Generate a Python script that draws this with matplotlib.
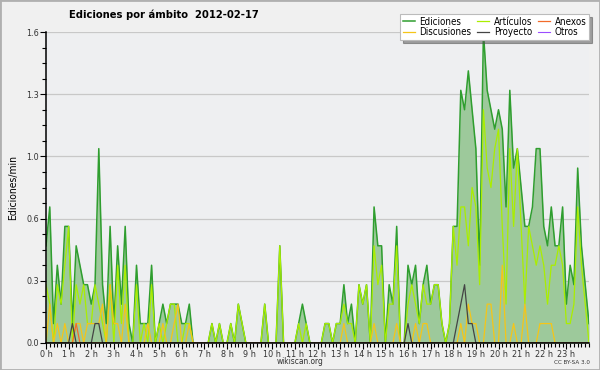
import matplotlib
matplotlib.use('Agg')
import matplotlib.pyplot as plt
from matplotlib.patches import Rectangle
import numpy as np

plt.rcParams['font.family'] = ['DejaVu Sans']
plt.rcParams['font.stretch'] = 'condensed'

# 10-minute steps over the day (0:00 .. 24:00), values in edits per minute
hours = np.arange(145) / 6.0

ediciones = [
    0.5, 0.7, 0.1, 0.4, 0.2, 0.6, 0.6, 0.1, 0.5, 0.4, 0.3, 0.3,
    0.2, 0.3, 1.0, 0.3, 0.1, 0.6, 0.1, 0.5, 0.2, 0.6, 0.1, 0.0,
    0.4, 0.1, 0.1, 0.1, 0.4, 0.0, 0.1, 0.2, 0.1, 0.2, 0.2, 0.2,
    0.1, 0.1, 0.2, 0.0, 0.0, 0.0, 0.0, 0.0, 0.1, 0.0, 0.1, 0.0,
    0.0, 0.1, 0.0, 0.2, 0.1, 0.0, 0.0, 0.0, 0.0, 0.0, 0.2, 0.0,
    0.0, 0.0, 0.5, 0.0, 0.0, 0.0, 0.0, 0.1, 0.2, 0.1, 0.0, 0.0,
    0.0, 0.0, 0.1, 0.1, 0.0, 0.1, 0.1, 0.3, 0.1, 0.2, 0.0, 0.3,
    0.2, 0.3, 0.0, 0.7, 0.5, 0.5, 0.0, 0.3, 0.2, 0.6, 0.0, 0.0,
    0.4, 0.3, 0.4, 0.1, 0.3, 0.4, 0.2, 0.3, 0.3, 0.1, 0.0, 0.1,
    0.6, 0.6, 1.3, 1.2, 1.4, 1.2, 1.0, 0.4, 1.6, 1.3, 1.2, 1.1,
    1.2, 1.1, 0.7, 1.3, 0.9, 1.0, 0.8, 0.6, 0.6, 0.7, 1.0, 1.0,
    0.6, 0.5, 0.7, 0.5, 0.5, 0.7, 0.2, 0.4, 0.3, 0.9, 0.5, 0.3,
    0.1,
]

articulos = [
    0.3, 0.2, 0.0, 0.3, 0.2, 0.4, 0.6, 0.0, 0.3, 0.2, 0.3, 0.1,
    0.1, 0.3, 0.2, 0.1, 0.0, 0.3, 0.0, 0.4, 0.1, 0.4, 0.0, 0.0,
    0.3, 0.0, 0.1, 0.0, 0.3, 0.0, 0.1, 0.0, 0.1, 0.2, 0.2, 0.0,
    0.0, 0.1, 0.1, 0.0, 0.0, 0.0, 0.0, 0.0, 0.1, 0.0, 0.1, 0.0,
    0.0, 0.1, 0.0, 0.2, 0.1, 0.0, 0.0, 0.0, 0.0, 0.0, 0.2, 0.0,
    0.0, 0.0, 0.5, 0.0, 0.0, 0.0, 0.0, 0.1, 0.0, 0.1, 0.0, 0.0,
    0.0, 0.0, 0.1, 0.1, 0.0, 0.1, 0.1, 0.2, 0.1, 0.1, 0.0, 0.3,
    0.2, 0.3, 0.0, 0.5, 0.3, 0.4, 0.0, 0.2, 0.2, 0.5, 0.0, 0.0,
    0.2, 0.3, 0.2, 0.1, 0.3, 0.2, 0.2, 0.3, 0.3, 0.1, 0.0, 0.1,
    0.6, 0.4, 0.7, 0.7, 0.5, 0.8, 0.7, 0.3, 1.2, 0.9, 0.8, 1.0,
    1.1, 0.6, 0.2, 1.0, 0.6, 1.0, 0.6, 0.2, 0.6, 0.5, 0.4, 0.5,
    0.4, 0.2, 0.4, 0.4, 0.5, 0.4, 0.1, 0.1, 0.2, 0.7, 0.4, 0.2,
    0.0,
]

discusiones = [
    0.0, 0.2, 0.0, 0.1, 0.0, 0.1, 0.0, 0.0, 0.1, 0.1, 0.0, 0.1,
    0.1, 0.1, 0.1, 0.2, 0.0, 0.3, 0.1, 0.1, 0.0, 0.2, 0.0, 0.0,
    0.0, 0.0, 0.0, 0.1, 0.0, 0.0, 0.0, 0.1, 0.0, 0.0, 0.1, 0.2,
    0.0, 0.0, 0.1, 0.0, 0.0, 0.0, 0.0, 0.0, 0.0, 0.0, 0.0, 0.0,
    0.0, 0.0, 0.0, 0.0, 0.0, 0.0, 0.0, 0.0, 0.0, 0.0, 0.0, 0.0,
    0.0, 0.0, 0.0, 0.0, 0.0, 0.0, 0.0, 0.0, 0.0, 0.0, 0.0, 0.0,
    0.0, 0.0, 0.0, 0.0, 0.0, 0.0, 0.0, 0.1, 0.0, 0.0, 0.0, 0.0,
    0.0, 0.0, 0.0, 0.1, 0.0, 0.0, 0.0, 0.0, 0.0, 0.1, 0.0, 0.0,
    0.0, 0.0, 0.1, 0.0, 0.1, 0.1, 0.0, 0.0, 0.0, 0.0, 0.0, 0.0,
    0.0, 0.0, 0.1, 0.0, 0.2, 0.1, 0.1, 0.0, 0.0, 0.2, 0.2, 0.0,
    0.0, 0.4, 0.0, 0.0, 0.1, 0.0, 0.0, 0.2, 0.0, 0.0, 0.0, 0.1,
    0.1, 0.1, 0.1, 0.0, 0.0, 0.0, 0.0, 0.0, 0.0, 0.0, 0.0, 0.0,
    0.0,
]

proyecto = [0.0] * 145
for i, v in {7: 0.1, 13: 0.1, 14: 0.1, 96: 0.1, 109: 0.1, 110: 0.2,
             111: 0.3, 112: 0.1, 113: 0.1}.items():
    proyecto[i] = v

anexos = [0.0] * 145
anexos[8] = 0.1

otros = [0.0] * 145

yticks = [0.0, 0.32, 0.64, 0.96, 1.28, 1.6]
ytick_labels = ['0.0', '0.3', '0.6', '1.0', '1.3', '1.6']
xtick_labels = ['%d h' % h for h in range(24)]

c_edic = '#2f9e2f'
c_fill = '#9dc99b'
c_art = '#aaee00'
c_disc = '#f5c518'
c_anex = '#f26b2a'
c_proy = '#444444'
c_otros = '#9b4dff'

fig = plt.figure(figsize=(6, 3.7), dpi=100, facecolor='#f0f0f0')
ax = fig.add_axes([46 / 600, 27 / 370, 543 / 600, 311 / 370])
ax.set_facecolor('#eeeff1')

ax.fill_between(hours, ediciones, color=c_fill, lw=0, zorder=1)
l_ed, = ax.plot(hours, ediciones, color=c_edic, lw=1.1, zorder=3, label='Ediciones')
l_ot, = ax.plot(hours, otros, color=c_otros, lw=0.8, zorder=2, label='Otros')
l_ar, = ax.plot(hours, articulos, color=c_art, lw=0.9, zorder=4, label='Artículos')
l_di, = ax.plot(hours, discusiones, color=c_disc, lw=0.9, zorder=5, label='Discusiones')
l_an, = ax.plot(hours, anexos, color=c_anex, lw=0.9, zorder=5, label='Anexos')
l_pr, = ax.plot(hours, proyecto, color=c_proy, lw=0.9, zorder=6, label='Proyecto')

ax.set_xlim(0, 24)
ax.set_ylim(0, 1.6)
ax.set_yticks(yticks)
ax.set_yticklabels(ytick_labels)
ax.set_yticks(np.arange(0, 1.601, 0.08), minor=True)
ax.set_xticks(range(24))
ax.set_xticklabels(xtick_labels)
ax.set_xticks(hours, minor=True)
ax.tick_params(axis='both', which='major', length=4, width=0.8, labelsize=6.5,
               pad=1, colors='black', labelcolor='#333333')
ax.tick_params(axis='both', which='minor', length=3, width=0.8)
ax.grid(axis='y', which='major', color='#c8c8c8', lw=0.9, zorder=0)
ax.set_axisbelow(True)
for s in ['top', 'right']:
    ax.spines[s].set_visible(False)
for s in ['left', 'bottom']:
    ax.spines[s].set_linewidth(1.1)
    ax.spines[s].set_zorder(10)

ax.set_ylabel('Ediciones/min', fontsize=7.5, labelpad=6)

fig.text(164 / 600, 1 - 15 / 370, 'Ediciones por ámbito  2012-02-17',
         fontsize=8, fontweight='bold', ha='center', va='center')
fig.text(300 / 600, 1 - 362 / 370, 'wikiscan.org', fontsize=6,
         ha='center', va='center', color='#333333')
fig.text(590 / 600, 1 - 362 / 370, 'CC BY-SA 3.0', fontsize=4.5,
         ha='right', va='center', color='#333333')

leg = fig.legend([l_ed, l_di, l_ar, l_pr, l_an, l_ot],
                 ['Ediciones', 'Discusiones', 'Artículos', 'Proyecto', 'Anexos', 'Otros'],
                 ncol=3, loc='upper right', bbox_to_anchor=(594 / 600, 1 - 9 / 370),
                 fontsize=7, handlelength=1.2, handletextpad=0.5,
                 columnspacing=0.6, labelspacing=0.05, borderpad=0.3,
                 fancybox=False, shadow=True, framealpha=1, edgecolor='#bbbbbb')
leg.get_frame().set_linewidth(0.8)

fig.add_artist(Rectangle((0, 0), 1, 1, transform=fig.transFigure, fill=False,
                         edgecolor='#b0b0b0', lw=2))

fig.savefig('out.png', dpi=100, facecolor=fig.get_facecolor())
